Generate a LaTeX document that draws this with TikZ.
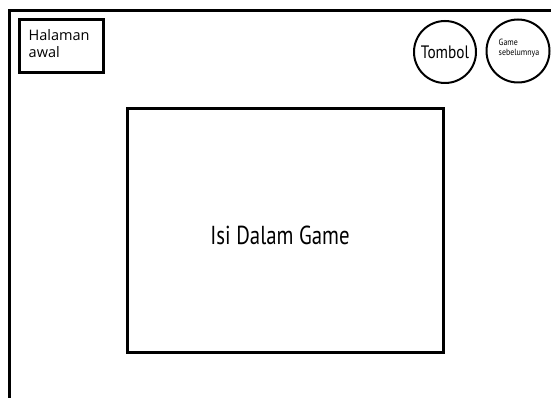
\documentclass[tikz,border=0pt]{standalone}
\usepackage{graphicx}
\usepackage{fontspec}
\setmainfont{PT Sans}
\newfontfamily\segoe{Open Sans}
\begin{document}
\begin{tikzpicture}[x=1pt,y=-1pt,
  thickline/.style={line width=3pt},
  boxframe/.style={draw,line width=3pt,rectangle,inner sep=0pt},
  roundbtn/.style={draw,line width=2pt,circle,inner sep=0pt,minimum size=62pt}]
\useasboundingbox (0,0) rectangle (551,398);
\fill[white] (0,0) rectangle (551,398);
% outer frame (top and left edges)
\draw[thickline] (9,398) -- (9,11) -- (551,11);
% Halaman awal box
\node[boxframe,minimum width=84pt,minimum height=53pt] (home) at (61,46.5) {};
\node[anchor=north west,align=left,inner sep=0pt,font=\segoe\fontsize{14.5}{17.5}\selectfont] (hometext) at (28.5,29) {Halaman\\awal};
% buttons
\node[roundbtn] (tombol) at (445,52) {};
\node[inner sep=0pt,font=\fontsize{18}{20}\selectfont] (tombtext) at (445,52) {\scalebox{0.85}[1]{Tombol}};
\node[roundbtn,minimum size=63pt] (prev) at (518,51) {};
\node[inner sep=0pt,font=\fontsize{9}{10}\selectfont] (prevtext) at (519,49) {\scalebox{0.88}[1]{\begin{tabular}{@{}l@{}}Game\\sebelumnya\end{tabular}}};
% content area
\node[boxframe,minimum width=316pt,minimum height=243pt] (content) at (285,230.5) {};
\node[inner sep=0pt,font=\fontsize{26}{28}\selectfont] (contenttext) at (280,235) {\scalebox{0.8}[1]{Isi Dalam Game}};
\end{tikzpicture}
\end{document}
